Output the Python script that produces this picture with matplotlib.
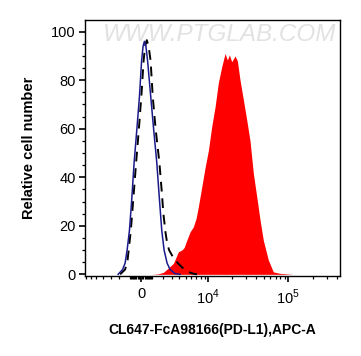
import numpy as np
import matplotlib
matplotlib.use("Agg")
import matplotlib.pyplot as plt
from matplotlib.ticker import FixedLocator, NullFormatter

plt.rcParams['font.family'] = ['Liberation Sans', 'DejaVu Sans']
plt.rcParams['mathtext.fontset'] = 'custom'
plt.rcParams['mathtext.rm'] = 'Liberation Sans'

# isotype control (blue solid)
blue_x = [-2136, -1678, -1434, -1245, -1031, -833, -610, -365, -147, 43, 173, 286,
          417, 566, 851, 1106, 1406, 1678, 1898, 2138, 2465, 2806, 3422, 4114]
blue_y = [0, 2, 4.6, 10, 18, 30, 46, 60, 73, 88, 94, 96,
          94, 88, 73, 60, 46, 30, 18, 10, 4.6, 2, 0.3, 0]

# unstained (black dashed)
dash_x = [-1930, -1434, -1199, -905, -699, -435, -191, 43, 217, 347, 496, 655, 833,
          1032, 1292, 1658, 1878, 2064, 2298, 2465, 2691, 3171, 3830, 4566, 5396, 6333, 7174]
dash_y = [0, 2, 6, 18, 30, 46, 60, 75, 88, 94, 96.5, 94, 88,
          73, 60, 46, 35, 25, 17, 13, 10, 7, 4.5, 2.5, 1, 0.3, 0]

# PD-L1 stained (red filled)
red_x = [941, 1531, 2064, 2576, 3208, 3872, 4367, 4724, 5170, 5755, 6393, 6956, 7467,
         8283, 9148, 10093, 11160, 12296, 13539, 14945, 16443, 17571, 18614, 19944,
         21926, 23421, 25301, 27809, 30637, 33663, 36997, 40748, 44774, 49181, 56700,
         65362, 79087, 114436]
red_y = [0, 0.2, 0.8, 2.5, 4.5, 9.3, 10, 11, 14, 17.5, 19.6, 23, 27.9,
         36, 44, 51, 61, 69, 79, 85.6, 91, 88.3, 90.4, 87.6,
         90, 88, 80, 72, 63.6, 55, 41.6, 32, 22.4, 14, 5.9,
         1, 0.4, 0]

x_ticks = [0, 1e4, 1e5]
x_ticklabels = ['0', '$10^4$', '$10^5$']
y_ticks = [0, 20, 40, 60, 80, 100]

C = 3050.0


def fwd(x):
    return np.arcsinh(np.asarray(x, dtype=float) / C)


def inv(y):
    return C * np.sinh(np.asarray(y, dtype=float))


fig = plt.figure(figsize=(3.61, 3.56), dpi=100)
ax = fig.add_axes([0.2355, 0.226, 0.7063, 0.7178])
ax.set_xscale('function', functions=(fwd, inv))

ax.fill_between(red_x, red_y, 0, color='#ff0000', linewidth=0, zorder=1)
ax.plot(blue_x, blue_y, color='#1a1a8c', linewidth=1.1, zorder=3)
ax.plot(dash_x, dash_y, color='black', linewidth=1.4, dashes=(5, 3.5), zorder=2)

ax.set_xlim(-7200, 435000)
ax.set_ylim(-0.5, 104.8)

ax.set_xticks(x_ticks)
ax.set_xticklabels(x_ticklabels)
minor = [-1000 * k for k in range(1, 8)] + [-100 * k for k in range(1, 10)]
for dec in [100, 1000, 10000, 100000]:
    minor += [dec * k for k in range(1, 10)]
minor = [m for m in minor if m not in x_ticks and m < 435000]
ax.xaxis.set_minor_locator(FixedLocator(minor))
ax.xaxis.set_minor_formatter(NullFormatter())

ax.set_yticks(y_ticks)
ax.yaxis.set_minor_locator(FixedLocator(list(range(5, 105, 5))))

ax.tick_params(axis='both', which='major', direction='out', length=4.5, width=1.2,
               labelsize=10.5, colors='black')
ax.tick_params(axis='x', which='major', pad=4)
ax.tick_params(axis='y', which='major', pad=2)
ax.tick_params(axis='both', which='minor', direction='out', length=2.5, width=0.9)
for s in ax.spines.values():
    s.set_linewidth(1.0)

ax.set_xlabel('CL647-FcA98166(PD-L1),APC-A', fontsize=10, fontweight='bold', labelpad=12)
ax.set_ylabel('Relative cell number', fontsize=10.5, fontweight='bold', labelpad=11)

ax.text(0.53, 0.945, 'WWW.PTGLAB.COM', transform=ax.transAxes, ha='center', va='center',
        fontsize=17.5, style='italic', color='#e2e2e2', zorder=0)

fig.savefig('out.png', dpi=100)
